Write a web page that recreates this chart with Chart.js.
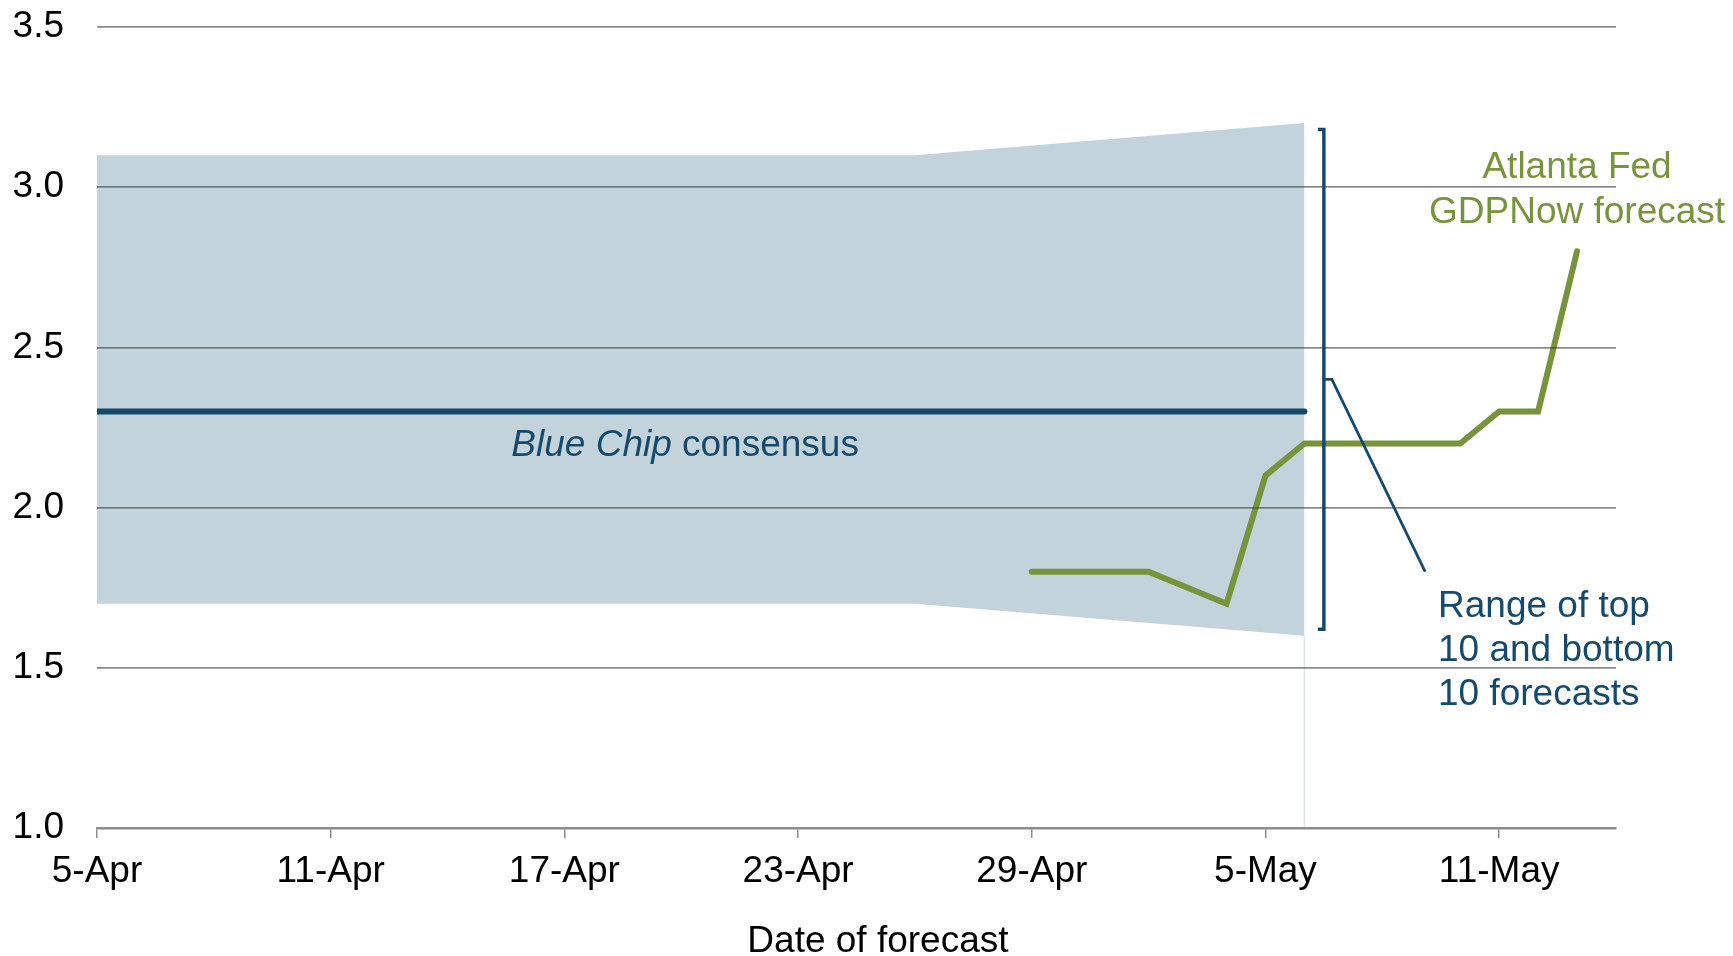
<!DOCTYPE html>
<html>
<head>
<meta charset="utf-8">
<script src="https://cdn.jsdelivr.net/npm/chart.js@4/dist/chart.umd.min.js"></script>
<style>
  html, body { margin: 0; padding: 0; background: #fff; }
  #wrap { width: 1733px; height: 956px; }
</style>
</head>
<body>
<div id="wrap"><canvas id="gdp-chart"></canvas></div>
<script>
// Données
const tickLabels = ["5-Apr", "11-Apr", "17-Apr", "23-Apr", "29-Apr", "5-May", "11-May"];

// Fourchette top 10 / bottom 10 (Blue Chip)
const bandDates = ["5-Apr", "26-Apr", "6-May"];
const bandHigh = [3.1, 3.1, 3.2];
const bandLow = [1.7, 1.7, 1.6];

// Consensus Blue Chip
const consensusDates = ["5-Apr", "6-May"];
const consensusValues = [2.3, 2.3];

// GDPNow Atlanta Fed
const gdpNowDates = ["29-Apr", "2-May", "4-May", "5-May", "6-May", "10-May", "11-May", "12-May", "13-May"];
const gdpNowValues = [1.8, 1.8, 1.7, 2.1, 2.2, 2.2, 2.3, 2.3, 2.8];

// bord droit de la fourchette (ligne très claire jusqu'à l'axe)
const edgeDates = ["6-May", "6-May"];
const edgeValues = [1.0, 1.6];

const FONT = "'Liberation Sans', Arial, sans-serif";
const FSIZE = 37;
const BLUE = "#164a6c";
const GREEN = "#77933c";

// nombre de jours depuis le 5 avril
function dayOf(label) {
  const [d, m] = label.split("-");
  const monthStart = { Apr: 0, May: 30 };
  return Number(d) + monthStart[m] - 5;
}
const toPoints = (dates, values) => dates.map((d, i) => ({ x: dayOf(d), y: values[i] }));

// Annotations : accolade, textes, titre de l'axe
const annotations = {
  id: "annotations",
  afterDraw(chart) {
    const { ctx } = chart;
    const x = chart.scales.x;
    const y = chart.scales.y;
    ctx.save();

    // accolade
    ctx.strokeStyle = BLUE;
    ctx.lineWidth = 3.5;
    const bx = x.getPixelForValue(31.5);
    const top = y.getPixelForValue(3.18);
    const bot = y.getPixelForValue(1.62);
    ctx.beginPath();
    ctx.moveTo(bx - 6, top);
    ctx.lineTo(bx, top);
    ctx.lineTo(bx, bot);
    ctx.lineTo(bx - 6, bot);
    ctx.stroke();

    const ny = y.getPixelForValue(2.4);
    ctx.lineWidth = 2.8;
    ctx.beginPath();
    ctx.moveTo(bx, ny);
    ctx.lineTo(bx + 8, ny);
    ctx.lineTo(x.getPixelForValue(34.1), y.getPixelForValue(1.8));
    ctx.stroke();

    // Blue Chip consensus
    ctx.textBaseline = "alphabetic";
    ctx.textAlign = "left";
    ctx.fillStyle = BLUE;
    ctx.font = "italic " + FSIZE + "px " + FONT;
    const w1 = ctx.measureText("Blue Chip").width;
    ctx.font = FSIZE + "px " + FONT;
    const w2 = ctx.measureText(" consensus").width;
    const cx = x.getPixelForValue(15.1);
    const by = y.getPixelForValue(2.162);
    ctx.font = "italic " + FSIZE + "px " + FONT;
    ctx.fillText("Blue Chip", cx - (w1 + w2) / 2, by);
    ctx.font = FSIZE + "px " + FONT;
    ctx.fillText(" consensus", cx - (w1 + w2) / 2 + w1, by);

    // Range of top 10 ...
    const rx = x.getPixelForValue(34.43);
    ctx.fillText("Range of top", rx, y.getPixelForValue(1.659));
    ctx.fillText("10 and bottom", rx, y.getPixelForValue(1.521));
    ctx.fillText("10 forecasts", rx, y.getPixelForValue(1.384));

    // Atlanta Fed
    ctx.fillStyle = GREEN;
    ctx.textAlign = "center";
    const gx = x.getPixelForValue(38);
    ctx.fillText("Atlanta Fed", gx, y.getPixelForValue(3.03));
    ctx.fillText("GDPNow forecast", gx, y.getPixelForValue(2.887));

    // titre axe X
    ctx.fillStyle = "#000";
    ctx.fillText("Date of forecast", x.getPixelForValue(20.05), 952);

    ctx.restore();
  },
};

new Chart("gdp-chart", {
  type: "line",
  data: {
    datasets: [
      {
        label: "GDPNow",
        data: toPoints(gdpNowDates, gdpNowValues),
        borderColor: GREEN,
        borderWidth: 6,
        borderCapStyle: "round",
        pointRadius: 0,
        fill: false,
      },
      {
        label: "Blue Chip consensus",
        data: toPoints(consensusDates, consensusValues),
        borderColor: BLUE,
        borderWidth: 6,
        borderCapStyle: "round",
        pointRadius: 0,
        fill: false,
      },
      {
        label: "Top 10",
        data: toPoints(bandDates, bandHigh),
        borderWidth: 0,
        borderColor: "rgba(0,0,0,0)",
        backgroundColor: "#c3d3db",
        pointRadius: 0,
        fill: "+1",
      },
      {
        label: "Bottom 10",
        data: toPoints(bandDates, bandLow),
        borderWidth: 0,
        borderColor: "rgba(0,0,0,0)",
        pointRadius: 0,
        fill: false,
      },
      {
        label: "edge",
        data: toPoints(edgeDates, edgeValues),
        borderColor: "#dce3e7",
        borderWidth: 1.5,
        pointRadius: 0,
        fill: false,
      },
    ],
  },
  options: {
    responsive: true,
    maintainAspectRatio: false,
    animation: false,
    events: [],
    layout: { autoPadding: false, padding: { left: 0, right: 117, top: 27, bottom: 0 } },
    plugins: {
      legend: { display: false },
      tooltip: { enabled: false },
    },
    scales: {
      x: {
        type: "linear",
        min: 0,
        max: 39,
        afterBuildTicks: (scale) => {
          scale.ticks = tickLabels.map((l) => ({ value: dayOf(l) }));
        },
        afterFit: (scale) => {
          scale.height = 128;
          scale.paddingLeft = 0;
          scale.paddingRight = 0;
        },
        grid: {
          drawOnChartArea: false,
          drawTicks: true,
          tickLength: 10,
          color: "#8c8c8c",
          lineWidth: 1.5,
        },
        border: { display: true, color: "#8c8c8c", width: 2.5, z: 2 },
        ticks: {
          autoSkip: false,
          maxRotation: 0,
          padding: 12,
          color: "#000",
          font: { family: FONT, size: FSIZE },
          callback: (v) => tickLabels.find((l) => dayOf(l) === v) || "",
        },
      },
      y: {
        min: 1.0,
        max: 3.5,
        afterFit: (scale) => {
          scale.width = 97;
          scale.paddingTop = 0;
          scale.paddingBottom = 0;
        },
        grid: {
          z: 1,
          drawTicks: false,
          color: "rgba(60,60,60,0.6)",
          lineWidth: 1.8,
        },
        border: { display: false },
        ticks: {
          stepSize: 0.5,
          padding: 33,
          color: "#000",
          font: { family: FONT, size: FSIZE },
          callback: (v) => v.toFixed(1),
        },
      },
    },
  },
  plugins: [annotations],
});
</script>
</body>
</html>
